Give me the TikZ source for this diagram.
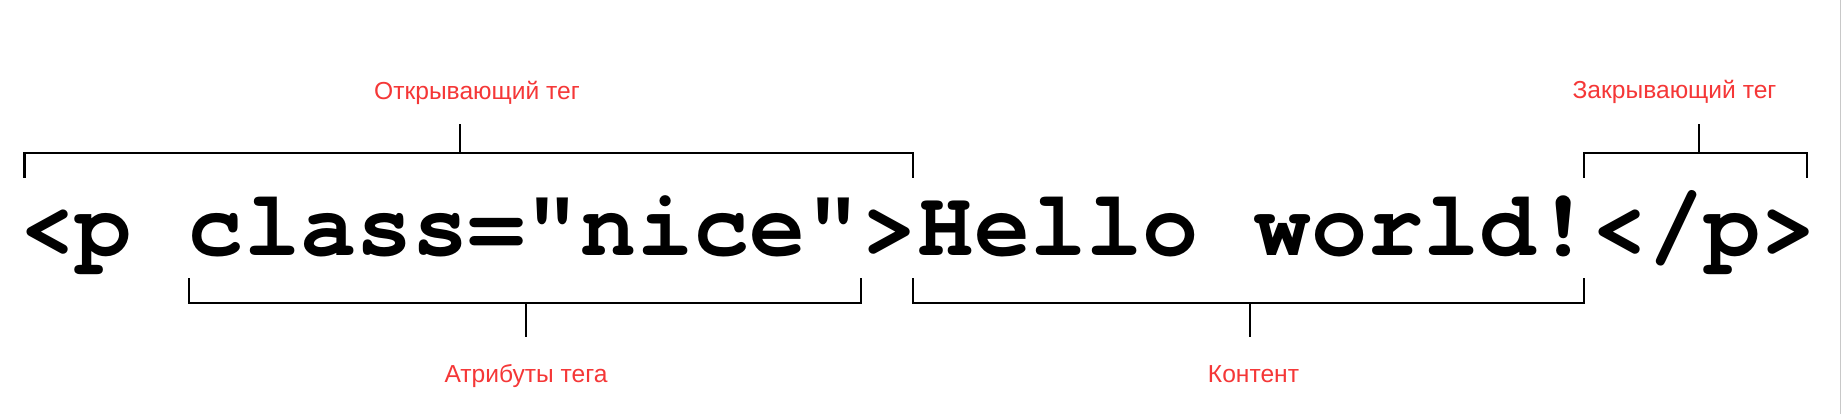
\documentclass[tikz,border=0pt]{standalone}
\usepackage{fontspec}
\setmainfont{Liberation Sans}
\newfontfamily\codefont{TeX Gyre Cursor}
\definecolor{lblred}{RGB}{245,55,55}
\definecolor{edgegray}{RGB}{200,200,200}
\begin{document}
\begin{tikzpicture}[x=1pt,y=-1pt,
  code/.style={font=\codefont\bfseries\fontsize{93.6}{100}\selectfont, inner sep=0pt, anchor=base west},
  lbl/.style={font=\fontsize{24.6}{28}\selectfont, text=lblred, inner sep=0pt, anchor=base},
  brk/.style={line width=2.8pt, line join=miter, line cap=butt}]
\useasboundingbox (0,0) rectangle (1842,414);
\fill[white] (0,0) rectangle (1842,414);
\draw[edgegray, line width=1.5pt] (1840.5,0) -- (1840.5,414);
% code text
\node[code] (code) at (19.2,255) {<p class="nice">Hello world!</p>};
% labels
\node[lbl] (lopen) at (477,100) {Открывающий тег};
\node[lbl] (lclose) at (1674.5,99) {Закрывающий тег};
\node[lbl] (lattr) at (526,382) {Атрибуты тега};
\node[lbl] (lcontent) at (1253.5,382) {Контент};
% opening tag bracket
\coordinate (o1) at (24.5,178); \coordinate (o2) at (913,178); \coordinate (ot) at (460,153);
\draw[brk] (o1) |- (ot) -| (o2);
\draw[brk] (ot) -- ++(0,-29);
% closing tag bracket
\coordinate (c1) at (1584,178); \coordinate (c2) at (1807,178); \coordinate (ct) at (1699,153);
\draw[brk] (c1) |- (ct) -| (c2);
\draw[brk] (ct) -- ++(0,-29);
% attribute bracket
\coordinate (a1) at (189,278); \coordinate (a2) at (861,278); \coordinate (at) at (526,303);
\draw[brk] (a1) |- (at) -| (a2);
\draw[brk] (at) -- ++(0,34);
% content bracket
\coordinate (k1) at (913,278); \coordinate (k2) at (1584,278); \coordinate (kt) at (1250,303);
\draw[brk] (k1) |- (kt) -| (k2);
\draw[brk] (kt) -- ++(0,34);
\end{tikzpicture}
\end{document}
